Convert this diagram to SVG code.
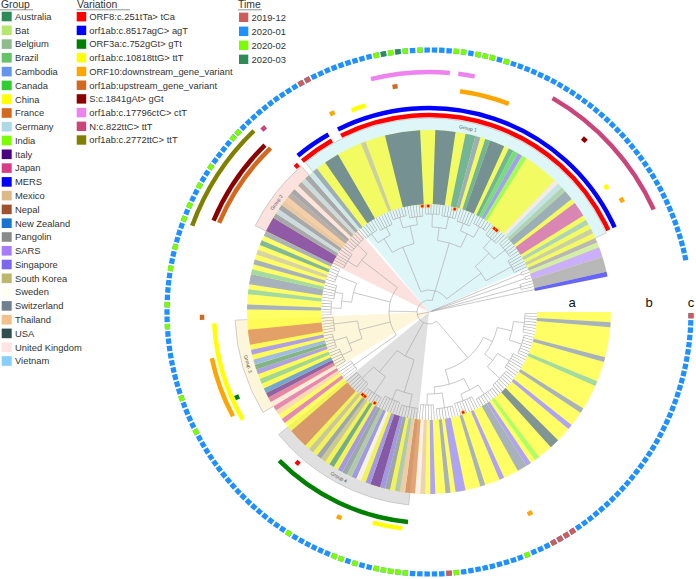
<svg xmlns="http://www.w3.org/2000/svg" width="696" height="579" viewBox="0 0 696 579">
<style>
text{font-family:"Liberation Sans",Arial,sans-serif;fill:#333}
.lt{font-size:10.4px}
.li{font-size:9.4px}
.ul{stroke:#777;stroke-width:0.8}
.br{fill:none;stroke:#a3a3a3;stroke-width:0.55}
.tm{fill:none;stroke:#a3a3a3}
.d2{stroke-dasharray:0.3 1.3 0.3 999}
.d3{stroke-dasharray:0.3 1.3 0.3 1.3 0.3 999}
.d5{stroke-dasharray:0.3 1.3 0.3 1.3 0.3 1.3 0.3 1.3 0.3 999}
.d6{stroke-dasharray:0.3 1.3 0.3 1.3 0.3 1.3 0.3 1.3 0.3 1.3 0.3 999}
.d7{stroke-dasharray:0.3 1.3 0.3 1.3 0.3 1.3 0.3 1.3 0.3 1.3 0.3 1.3 0.3 999}
.d8{stroke-dasharray:0.3 1.3 0.3 1.3 0.3 1.3 0.3 1.3 0.3 1.3 0.3 1.3 0.3 1.3 0.3 999}
.n1{stroke-dasharray:1.6 999}.n2{stroke-dasharray:3.2 999}.n3{stroke-dasharray:4.8 999}.n4{stroke-dasharray:6.4 999}.n7{stroke-dasharray:11.2 999}
.AU{stroke:#2e8b57}.BAT{stroke:#b5e66e}.BE{stroke:#8fbc8f}.BR{stroke:#66c266}.CAM{stroke:#6495ed}.CAN{stroke:#32cd32}.FR{stroke:#d2691e}.DE{stroke:#add8e6}.IN{stroke:#7cfc00}.IT{stroke:#4b0082}.JP{stroke:#d63c8a}.MERS{stroke:#0000ff}.MX{stroke:#deb887}.NP{stroke:#a0522d}.NZ{stroke:#1874cd}.PG{stroke:#8a8a8a}.SARS{stroke:#a87cf7}.SG{stroke:#7b68ee}.KR{stroke:#bdb76b}.SE{stroke:#fffff0}.CH{stroke:#708090}.TH{stroke:#f4c08a}.US{stroke:#2f4f4f}.UK{stroke:#ffe4e1}.VN{stroke:#87cefa}
.mk{fill:none;stroke-width:4.5}
.tr{fill:none;stroke-width:5.2}
.gl{font-size:5px;fill:#555}
.abc{font-size:13px;fill:#111}
.band{fill:none;stroke:#b9b9b9;stroke-width:0.6}
.tip{fill:#ff0000;stroke:#ffcc00;stroke-width:0.6}
</style>
<defs>
<circle id="st" r="145" pathLength="360" fill="none" stroke-width="74"/>
</defs>

<g id="legend-group">
<text class="lt" x="1" y="8.3">Group</text>
<line class="ul" x1="0" y1="9.8" x2="33" y2="9.8"/>
<rect x="1.7" y="11.7" width="10" height="9.6" fill="#2e8b57"/><text class="li" x="15" y="19.8">Australia</text>
<rect x="1.7" y="25.5" width="10" height="9.6" fill="#b5e66e"/><text class="li" x="15" y="33.6">Bat</text>
<rect x="1.7" y="39.3" width="10" height="9.6" fill="#8fbc8f"/><text class="li" x="15" y="47.4">Belgium</text>
<rect x="1.7" y="53.0" width="10" height="9.6" fill="#66c266"/><text class="li" x="15" y="61.1">Brazil</text>
<rect x="1.7" y="66.8" width="10" height="9.6" fill="#6495ed"/><text class="li" x="15" y="74.9">Cambodia</text>
<rect x="1.7" y="80.6" width="10" height="9.6" fill="#32cd32"/><text class="li" x="15" y="88.7">Canada</text>
<rect x="1.7" y="94.4" width="10" height="9.6" fill="#ffff00"/><text class="li" x="15" y="102.5">China</text>
<rect x="1.7" y="108.2" width="10" height="9.6" fill="#d2691e"/><text class="li" x="15" y="116.3">France</text>
<rect x="1.7" y="121.9" width="10" height="9.6" fill="#add8e6"/><text class="li" x="15" y="130.0">Germany</text>
<rect x="1.7" y="135.7" width="10" height="9.6" fill="#7cfc00"/><text class="li" x="15" y="143.8">India</text>
<rect x="1.7" y="149.5" width="10" height="9.6" fill="#4b0082"/><text class="li" x="15" y="157.6">Italy</text>
<rect x="1.7" y="163.3" width="10" height="9.6" fill="#d63c8a"/><text class="li" x="15" y="171.4">Japan</text>
<rect x="1.7" y="177.1" width="10" height="9.6" fill="#0000ff"/><text class="li" x="15" y="185.2">MERS</text>
<rect x="1.7" y="190.8" width="10" height="9.6" fill="#deb887"/><text class="li" x="15" y="198.9">Mexico</text>
<rect x="1.7" y="204.6" width="10" height="9.6" fill="#a0522d"/><text class="li" x="15" y="212.7">Nepal</text>
<rect x="1.7" y="218.4" width="10" height="9.6" fill="#1874cd"/><text class="li" x="15" y="226.5">New Zealand</text>
<rect x="1.7" y="232.2" width="10" height="9.6" fill="#8a8a8a"/><text class="li" x="15" y="240.3">Pangolin</text>
<rect x="1.7" y="246.0" width="10" height="9.6" fill="#a87cf7"/><text class="li" x="15" y="254.1">SARS</text>
<rect x="1.7" y="259.7" width="10" height="9.6" fill="#7b68ee"/><text class="li" x="15" y="267.8">Singapore</text>
<rect x="1.7" y="273.5" width="10" height="9.6" fill="#bdb76b"/><text class="li" x="15" y="281.6">South Korea</text>
<rect x="1.7" y="287.3" width="10" height="9.6" fill="#fffff0"/><text class="li" x="15" y="295.4">Sweden</text>
<rect x="1.7" y="301.1" width="10" height="9.6" fill="#708090"/><text class="li" x="15" y="309.2">Switzerland</text>
<rect x="1.7" y="314.9" width="10" height="9.6" fill="#f4c08a"/><text class="li" x="15" y="323.0">Thailand</text>
<rect x="1.7" y="328.6" width="10" height="9.6" fill="#2f4f4f"/><text class="li" x="15" y="336.7">USA</text>
<rect x="1.7" y="342.4" width="10" height="9.6" fill="#ffe4e1"/><text class="li" x="15" y="350.5">United Kingdom</text>
<rect x="1.7" y="356.2" width="10" height="9.6" fill="#87cefa"/><text class="li" x="15" y="364.3">Vietnam</text>
</g>

<g id="legend-variation">
<text class="lt" x="77" y="8.3">Variation</text>
<line class="ul" x1="76.7" y1="9.8" x2="130" y2="9.8"/>
<rect x="76.7" y="12.0" width="9.5" height="9.4" fill="#ff0000"/><text class="li" x="89.3" y="20.0">ORF8:c.251tTa&gt; tCa</text>
<rect x="76.7" y="25.7" width="9.5" height="9.4" fill="#0000ff"/><text class="li" x="89.3" y="33.7">orf1ab:c.8517agC&gt; agT</text>
<rect x="76.7" y="39.4" width="9.5" height="9.4" fill="#008000"/><text class="li" x="89.3" y="47.4">ORF3a:c.752gGt&gt; gTt</text>
<rect x="76.7" y="53.1" width="9.5" height="9.4" fill="#ffff00"/><text class="li" x="89.3" y="61.1">orf1ab:c.10818ttG&gt; ttT</text>
<rect x="76.7" y="66.8" width="9.5" height="9.4" fill="#ffa500"/><text class="li" x="89.3" y="74.8">ORF10:downstream_gene_variant</text>
<rect x="76.7" y="80.5" width="9.5" height="9.4" fill="#d2691e"/><text class="li" x="89.3" y="88.5">orf1ab:upstream_gene_variant</text>
<rect x="76.7" y="94.2" width="9.5" height="9.4" fill="#8b0000"/><text class="li" x="89.3" y="102.2">S:c.1841gAt&gt; gGt</text>
<rect x="76.7" y="107.9" width="9.5" height="9.4" fill="#ee82ee"/><text class="li" x="89.3" y="115.9">orf1ab:c.17796ctC&gt; ctT</text>
<rect x="76.7" y="121.6" width="9.5" height="9.4" fill="#c9457a"/><text class="li" x="89.3" y="129.6">N:c.822ttC&gt; ttT</text>
<rect x="76.7" y="135.3" width="9.5" height="9.4" fill="#808000"/><text class="li" x="89.3" y="143.3">orf1ab:c.2772ttC&gt; ttT</text>
</g>

<g id="legend-time">
<text class="lt" x="238" y="8.3">Time</text>
<line class="ul" x1="238" y1="9.8" x2="262" y2="9.8"/>
<rect x="239" y="12.6" width="9.3" height="9.4" fill="#cd5c5c"/><text class="li" x="251.5" y="20.6">2019-12</text>
<rect x="239" y="26.6" width="9.3" height="9.4" fill="#1e90ff"/><text class="li" x="251.5" y="34.6">2020-01</text>
<rect x="239" y="40.6" width="9.3" height="9.4" fill="#7cfc00"/><text class="li" x="251.5" y="48.6">2020-02</text>
<rect x="239" y="54.6" width="9.3" height="9.4" fill="#2e8b57"/><text class="li" x="251.5" y="62.6">2020-03</text>
</g>

<g id="circle" transform="translate(429,312)">
<g id="groups">
<circle r="97" pathLength="360" fill="none" stroke="#dff6f8" stroke-width="194" stroke-dasharray="105.6 999" transform="rotate(230.4)"/>
<circle r="97" pathLength="360" fill="none" stroke="#fbe2de" stroke-width="194" stroke-dasharray="22.4 999" transform="rotate(206.4)"/>
<circle r="97" pathLength="360" fill="none" stroke="#fdf6da" stroke-width="194" stroke-dasharray="28.8 999" transform="rotate(148.8)"/>
<circle r="97" pathLength="360" fill="none" stroke="#e0e0e0" stroke-width="194" stroke-dasharray="44.8 999" transform="rotate(96)"/>
<circle class="band" r="194" pathLength="360" stroke-dasharray="105.6 999" transform="rotate(230.4)"/>
<circle class="band" r="194" pathLength="360" stroke-dasharray="22.4 999" transform="rotate(206.4)"/>
<circle class="band" r="194" pathLength="360" stroke-dasharray="28.8 999" transform="rotate(148.8)"/>
<circle class="band" r="194" pathLength="360" stroke-dasharray="44.8 999" transform="rotate(96)"/>
<line class="band" x1="182" x2="194" transform="rotate(230.4)"/><line class="band" x1="182" x2="194" transform="rotate(336)"/>
<line class="band" x1="182" x2="194" transform="rotate(206.4)"/><line class="band" x1="182" x2="194" transform="rotate(228.8)"/>
<line class="band" x1="182" x2="194" transform="rotate(148.8)"/><line class="band" x1="182" x2="194" transform="rotate(177.6)"/>
<line class="band" x1="182" x2="194" transform="rotate(96)"/><line class="band" x1="182" x2="194" transform="rotate(140.8)"/>
<text class="gl" text-anchor="middle" dominant-baseline="central" transform="rotate(282) translate(188 0) rotate(90)">Group 1</text>
<text class="gl" text-anchor="middle" dominant-baseline="central" transform="rotate(215.7) translate(188 0) rotate(90)">Group 2</text>
<text class="gl" text-anchor="middle" dominant-baseline="central" transform="rotate(164) translate(188 0) rotate(-90)">Group 3</text>
<text class="gl" text-anchor="middle" dominant-baseline="central" transform="rotate(118.6) translate(188 0) rotate(-90)">Group 4</text>
</g>

<g id="connectors">
<circle class="br" pathLength="360" r="96" stroke-dasharray="11.2 999" transform="rotate(0.8)"/>
<circle class="br" pathLength="360" r="98" stroke-dasharray="11.2 999" transform="rotate(13.6)"/>
<circle class="br" pathLength="360" r="94" stroke-dasharray="9.6 999" transform="rotate(26.4)"/>
<circle class="br" pathLength="360" r="97" stroke-dasharray="11.2 999" transform="rotate(37.6)"/>
<circle class="br" pathLength="360" r="99" stroke-dasharray="11.2 999" transform="rotate(50.4)"/>
<circle class="br" pathLength="360" r="95" stroke-dasharray="11.2 999" transform="rotate(63.2)"/>
<circle class="br" pathLength="360" r="97" stroke-dasharray="9.6 999" transform="rotate(76)"/>
<circle class="br" pathLength="360" r="93" stroke-dasharray="8 999" transform="rotate(87.2)"/>
<circle class="br" pathLength="360" r="97" stroke-dasharray="9.6 999" transform="rotate(96.8)"/>
<circle class="br" pathLength="360" r="95" stroke-dasharray="9.6 999" transform="rotate(108)"/>
<circle class="br" pathLength="360" r="98" stroke-dasharray="9.6 999" transform="rotate(119.2)"/>
<circle class="br" pathLength="360" r="94" stroke-dasharray="9.6 999" transform="rotate(130.4)"/>
<circle class="br" pathLength="360" r="92" stroke-dasharray="6.4 999" transform="rotate(141.6)"/>
<circle class="br" pathLength="360" r="97" stroke-dasharray="8 999" transform="rotate(149.6)"/>
<circle class="br" pathLength="360" r="99" stroke-dasharray="8 999" transform="rotate(159.2)"/>
<circle class="br" pathLength="360" r="96" stroke-dasharray="8 999" transform="rotate(168.8)"/>
<circle class="br" pathLength="360" r="98" stroke-dasharray="8 999" transform="rotate(178.4)"/>
<circle class="br" pathLength="360" r="96" stroke-dasharray="8 999" transform="rotate(188)"/>
<circle class="br" pathLength="360" r="99" stroke-dasharray="8 999" transform="rotate(197.6)"/>
<circle class="br" pathLength="360" r="96" stroke-dasharray="9.6 999" transform="rotate(207.2)"/>
<circle class="br" pathLength="360" r="98" stroke-dasharray="9.6 999" transform="rotate(218.4)"/>
<circle class="br" pathLength="360" r="97" stroke-dasharray="8 999" transform="rotate(229.6)"/>
<circle class="br" pathLength="360" r="95" stroke-dasharray="8 999" transform="rotate(239.2)"/>
<circle class="br" pathLength="360" r="99" stroke-dasharray="8 999" transform="rotate(248.8)"/>
<circle class="br" pathLength="360" r="96" stroke-dasharray="8 999" transform="rotate(258.4)"/>
<circle class="br" pathLength="360" r="98" stroke-dasharray="8 999" transform="rotate(268)"/>
<circle class="br" pathLength="360" r="97" stroke-dasharray="8 999" transform="rotate(277.6)"/>
<circle class="br" pathLength="360" r="95" stroke-dasharray="8 999" transform="rotate(287.2)"/>
<circle class="br" pathLength="360" r="99" stroke-dasharray="8 999" transform="rotate(296.8)"/>
<circle class="br" pathLength="360" r="96" stroke-dasharray="8 999" transform="rotate(306.4)"/>
<circle class="br" pathLength="360" r="98" stroke-dasharray="9.6 999" transform="rotate(316)"/>
<circle class="br" pathLength="360" r="94" stroke-dasharray="8 999" transform="rotate(327.2)"/>
<circle class="br" pathLength="360" r="100" stroke-dasharray="1.6 999" transform="rotate(336.8)"/>
<circle class="br" pathLength="360" r="102" stroke-dasharray="1.6 999" transform="rotate(340)"/>
<circle class="br" pathLength="360" r="95" stroke-dasharray="3.2 999" transform="rotate(343.2)"/>
<circle class="br" pathLength="360" r="85" stroke-dasharray="12.8 999" transform="rotate(6.4)"/>
<circle class="br" pathLength="360" r="80" stroke-dasharray="12 999" transform="rotate(31.2)"/>
<circle class="br" pathLength="360" r="88" stroke-dasharray="12.8 999" transform="rotate(56)"/>
<circle class="br" pathLength="360" r="82" stroke-dasharray="10.4 999" transform="rotate(80.8)"/>
<circle class="br" pathLength="360" r="70" stroke-dasharray="24.4 999" transform="rotate(12.8)"/>
<circle class="br" pathLength="360" r="75" stroke-dasharray="23.6 999" transform="rotate(62.4)"/>
<circle class="br" pathLength="360" r="60" stroke-dasharray="49.2 999" transform="rotate(25)"/>
<circle class="br" pathLength="360" r="84" stroke-dasharray="11.2 999" transform="rotate(101.6)"/>
<circle class="br" pathLength="360" r="78" stroke-dasharray="11.2 999" transform="rotate(124)"/>
<circle class="br" pathLength="360" r="50" stroke-dasharray="22.4 999" transform="rotate(107.2)"/>
<circle class="br" pathLength="360" r="86" stroke-dasharray="9.6 999" transform="rotate(153.6)"/>
<circle class="br" pathLength="360" r="72" stroke-dasharray="14.4 999" transform="rotate(158.4)"/>
<circle class="br" pathLength="360" r="88" stroke-dasharray="9.6 999" transform="rotate(182.4)"/>
<circle class="br" pathLength="360" r="78" stroke-dasharray="14.4 999" transform="rotate(187.2)"/>
<circle class="br" pathLength="360" r="85" stroke-dasharray="11.2 999" transform="rotate(212)"/>
<circle class="br" pathLength="360" r="40" stroke-dasharray="72.8 999" transform="rotate(144.8)"/>
<circle class="br" pathLength="360" r="86" stroke-dasharray="9.6 999" transform="rotate(233.6)"/>
<circle class="br" pathLength="360" r="88" stroke-dasharray="9.6 999" transform="rotate(252.8)"/>
<circle class="br" pathLength="360" r="85" stroke-dasharray="9.6 999" transform="rotate(272)"/>
<circle class="br" pathLength="360" r="87" stroke-dasharray="9.6 999" transform="rotate(291.2)"/>
<circle class="br" pathLength="360" r="84" stroke-dasharray="10.4 999" transform="rotate(310.4)"/>
<circle class="br" pathLength="360" r="70" stroke-dasharray="19.2 999" transform="rotate(238.4)"/>
<circle class="br" pathLength="360" r="72" stroke-dasharray="19.2 999" transform="rotate(276.8)"/>
<circle class="br" pathLength="360" r="65" stroke-dasharray="15.6 999" transform="rotate(315.6)"/>
<circle class="br" pathLength="360" r="22" stroke-dasharray="75.4 999" transform="rotate(248)"/>
<circle class="br" pathLength="360" r="12" stroke-dasharray="236.1 999" transform="rotate(49.6)"/>
<line class="br" x1="85" x2="96" transform="rotate(6.4)"/><line class="br" x1="85" x2="98" transform="rotate(19.2)"/>
<line class="br" x1="80" x2="94" transform="rotate(31.2)"/><line class="br" x1="80" x2="97" transform="rotate(43.2)"/>
<line class="br" x1="88" x2="99" transform="rotate(56)"/><line class="br" x1="88" x2="95" transform="rotate(68.8)"/>
<line class="br" x1="82" x2="97" transform="rotate(80.8)"/><line class="br" x1="82" x2="93" transform="rotate(91.2)"/>
<line class="br" x1="70" x2="85" transform="rotate(12.8)"/><line class="br" x1="70" x2="80" transform="rotate(37.2)"/>
<line class="br" x1="75" x2="88" transform="rotate(62.4)"/><line class="br" x1="75" x2="82" transform="rotate(86)"/>
<line class="br" x1="60" x2="70" transform="rotate(25)"/><line class="br" x1="60" x2="75" transform="rotate(74.2)"/>
<line class="br" x1="12" x2="60" transform="rotate(49.6)"/>
<line class="br" x1="84" x2="97" transform="rotate(101.6)"/><line class="br" x1="84" x2="95" transform="rotate(112.8)"/>
<line class="br" x1="78" x2="98" transform="rotate(124)"/><line class="br" x1="78" x2="94" transform="rotate(135.2)"/>
<line class="br" x1="50" x2="84" transform="rotate(107.2)"/><line class="br" x1="50" x2="78" transform="rotate(129.6)"/>
<line class="br" x1="12" x2="50" transform="rotate(118.4)"/>
<line class="br" x1="40" x2="92" transform="rotate(144.8)"/>
<line class="br" x1="86" x2="97" transform="rotate(153.6)"/><line class="br" x1="86" x2="99" transform="rotate(163.2)"/>
<line class="br" x1="72" x2="96" transform="rotate(172.8)"/><line class="br" x1="72" x2="86" transform="rotate(158.4)"/>
<line class="br" x1="40" x2="72" transform="rotate(165.6)"/>
<line class="br" x1="88" x2="98" transform="rotate(182.4)"/><line class="br" x1="88" x2="96" transform="rotate(192)"/>
<line class="br" x1="78" x2="99" transform="rotate(201.6)"/><line class="br" x1="78" x2="88" transform="rotate(187.2)"/>
<line class="br" x1="40" x2="78" transform="rotate(194.4)"/>
<line class="br" x1="85" x2="96" transform="rotate(212)"/><line class="br" x1="85" x2="98" transform="rotate(223.2)"/>
<line class="br" x1="40" x2="85" transform="rotate(217.6)"/><line class="br" x1="12" x2="40" transform="rotate(181.2)"/>
<line class="br" x1="86" x2="97" transform="rotate(233.6)"/><line class="br" x1="86" x2="95" transform="rotate(243.2)"/>
<line class="br" x1="88" x2="99" transform="rotate(252.8)"/><line class="br" x1="88" x2="96" transform="rotate(262.4)"/>
<line class="br" x1="85" x2="98" transform="rotate(272)"/><line class="br" x1="85" x2="97" transform="rotate(281.6)"/>
<line class="br" x1="87" x2="95" transform="rotate(291.2)"/><line class="br" x1="87" x2="99" transform="rotate(300.8)"/>
<line class="br" x1="84" x2="96" transform="rotate(310.4)"/><line class="br" x1="84" x2="98" transform="rotate(320.8)"/>
<line class="br" x1="65" x2="94" transform="rotate(331.2)"/>
<line class="br" x1="70" x2="86" transform="rotate(238.4)"/><line class="br" x1="70" x2="88" transform="rotate(257.6)"/>
<line class="br" x1="72" x2="85" transform="rotate(276.8)"/><line class="br" x1="72" x2="87" transform="rotate(296)"/>
<line class="br" x1="65" x2="84" transform="rotate(315.6)"/>
<line class="br" x1="22" x2="70" transform="rotate(248)"/><line class="br" x1="22" x2="72" transform="rotate(286.4)"/>
<line class="br" x1="22" x2="65" transform="rotate(323.4)"/><line class="br" x1="12" x2="22" transform="rotate(285.7)"/>
<line class="br" x1="0" x2="12" transform="rotate(167.6)"/>
<line class="br" x1="3" x2="100" transform="rotate(337.6)"/><line class="br" x1="3" x2="102" transform="rotate(340.8)"/>
<line class="br" x1="2" x2="95" transform="rotate(344.8)"/><line class="br" x1="0" x2="108" transform="rotate(348)"/>
<circle class="tm d8" pathLength="360" r="102" stroke-width="12" transform="rotate(0.65)"/>
<circle class="tm d8" pathLength="360" r="103" stroke-width="10" transform="rotate(13.45)"/>
<circle class="tm d7" pathLength="360" r="101" stroke-width="14" transform="rotate(26.25)"/>
<circle class="tm d8" pathLength="360" r="102.5" stroke-width="11" transform="rotate(37.45)"/>
<circle class="tm d8" pathLength="360" r="103.5" stroke-width="9" transform="rotate(50.25)"/>
<circle class="tm d8" pathLength="360" r="101.5" stroke-width="13" transform="rotate(63.05)"/>
<circle class="tm d7" pathLength="360" r="102.5" stroke-width="11" transform="rotate(75.85)"/>
<circle class="tm d6" pathLength="360" r="100.5" stroke-width="15" transform="rotate(87.05)"/>
<circle class="tm d7" pathLength="360" r="102.5" stroke-width="11" transform="rotate(96.65)"/>
<circle class="tm d7" pathLength="360" r="101.5" stroke-width="13" transform="rotate(107.85)"/>
<circle class="tm d7" pathLength="360" r="103" stroke-width="10" transform="rotate(119.05)"/>
<circle class="tm d7" pathLength="360" r="101" stroke-width="14" transform="rotate(130.25)"/>
<circle class="tm d5" pathLength="360" r="100" stroke-width="16" transform="rotate(141.45)"/>
<circle class="tm d6" pathLength="360" r="102.5" stroke-width="11" transform="rotate(149.45)"/>
<circle class="tm d6" pathLength="360" r="103.5" stroke-width="9" transform="rotate(159.05)"/>
<circle class="tm d6" pathLength="360" r="102" stroke-width="12" transform="rotate(168.65)"/>
<circle class="tm d6" pathLength="360" r="103" stroke-width="10" transform="rotate(178.25)"/>
<circle class="tm d6" pathLength="360" r="102" stroke-width="12" transform="rotate(187.85)"/>
<circle class="tm d6" pathLength="360" r="103.5" stroke-width="9" transform="rotate(197.45)"/>
<circle class="tm d7" pathLength="360" r="102" stroke-width="12" transform="rotate(207.05)"/>
<circle class="tm d7" pathLength="360" r="103" stroke-width="10" transform="rotate(218.25)"/>
<circle class="tm d6" pathLength="360" r="102.5" stroke-width="11" transform="rotate(229.45)"/>
<circle class="tm d6" pathLength="360" r="101.5" stroke-width="13" transform="rotate(239.05)"/>
<circle class="tm d6" pathLength="360" r="103.5" stroke-width="9" transform="rotate(248.65)"/>
<circle class="tm d6" pathLength="360" r="102" stroke-width="12" transform="rotate(258.25)"/>
<circle class="tm d6" pathLength="360" r="103" stroke-width="10" transform="rotate(267.85)"/>
<circle class="tm d6" pathLength="360" r="102.5" stroke-width="11" transform="rotate(277.45)"/>
<circle class="tm d6" pathLength="360" r="101.5" stroke-width="13" transform="rotate(287.05)"/>
<circle class="tm d6" pathLength="360" r="103.5" stroke-width="9" transform="rotate(296.65)"/>
<circle class="tm d6" pathLength="360" r="102" stroke-width="12" transform="rotate(306.25)"/>
<circle class="tm d7" pathLength="360" r="103" stroke-width="10" transform="rotate(315.85)"/>
<circle class="tm d6" pathLength="360" r="101" stroke-width="14" transform="rotate(327.05)"/>
<circle class="tm d2" pathLength="360" r="104" stroke-width="8" transform="rotate(336.65)"/>
<circle class="tm d2" pathLength="360" r="105" stroke-width="6" transform="rotate(339.85)"/>
<circle class="tm d3" pathLength="360" r="101.5" stroke-width="13" transform="rotate(343.05)"/>
</g>

<g id="labels" opacity="0.6">
<use href="#st" stroke="#ffff00" stroke-dasharray="348.8 999"/>
<use href="#st" class="CH n1" transform="rotate(3.2)"/>
<use href="#st" class="CH n1" transform="rotate(14.4)"/>
<use href="#st" class="BR n1" transform="rotate(22.4)"/>
<use href="#st" class="CH n1" transform="rotate(32)"/>
<use href="#st" class="SG n1" transform="rotate(38.4)"/>
<use href="#st" class="US n2" transform="rotate(44.8)"/>
<use href="#st" class="IN n1" transform="rotate(52.8)"/>
<use href="#st" class="SG n1" transform="rotate(56)"/>
<use href="#st" class="CH n2" transform="rotate(57.6)"/>
<use href="#st" class="SG n1" transform="rotate(65.6)"/>
<use href="#st" class="CH n1" transform="rotate(72)"/>
<use href="#st" class="SG n2" transform="rotate(78.4)"/>
<use href="#st" class="CH n1" transform="rotate(83.2)"/>
<use href="#st" class="SG n1" transform="rotate(88)"/>
<use href="#st" class="MX n1" transform="rotate(91.2)"/>
<use href="#st" class="UK n1" transform="rotate(92.8)"/>
<use href="#st" class="FR n2" transform="rotate(94.4)"/>
<use href="#st" class="TH n1" transform="rotate(97.6)"/>
<use href="#st" class="BE n1" transform="rotate(99.2)"/>
<use href="#st" class="CH n1" transform="rotate(102.4)"/>
<use href="#st" class="SG n1" transform="rotate(104)"/>
<use href="#st" class="IT n2" transform="rotate(105.6)"/>
<use href="#st" class="SG n1" transform="rotate(108.8)"/>
<use href="#st" class="SE n1" transform="rotate(112)"/>
<use href="#st" class="SG n1" transform="rotate(113.6)"/>
<use href="#st" class="BE n1" transform="rotate(115.2)"/>
<use href="#st" class="CH n1" transform="rotate(116.8)"/>
<use href="#st" class="SG n1" transform="rotate(118.4)"/>
<use href="#st" class="AU n1" transform="rotate(121.6)"/>
<use href="#st" class="KR n1" transform="rotate(124.8)"/>
<use href="#st" class="CH n1" transform="rotate(126.4)"/>
<use href="#st" class="KR n1" transform="rotate(129.6)"/>
<use href="#st" class="FR n4" transform="rotate(132.8)"/>
<use href="#st" class="JP n1" transform="rotate(142.4)"/>
<use href="#st" class="TH n1" transform="rotate(145.6)"/>
<use href="#st" class="JP n1" transform="rotate(147.2)"/>
<use href="#st" class="UK n1" transform="rotate(148.8)"/>
<use href="#st" class="JP n1" transform="rotate(150.4)"/>
<use href="#st" class="IT n1" transform="rotate(152)"/>
<use href="#st" class="NZ n1" transform="rotate(153.6)"/>
<use href="#st" class="BR n1" transform="rotate(156.8)"/>
<use href="#st" class="SG n1" transform="rotate(160)"/>
<use href="#st" class="AU n1" transform="rotate(161.6)"/>
<use href="#st" class="CAM n1" transform="rotate(163.2)"/>
<use href="#st" class="SG n1" transform="rotate(166.4)"/>
<use href="#st" class="FR n3" transform="rotate(169.6)"/>
<use href="#st" class="CH n1" transform="rotate(180.8)"/>
<use href="#st" class="BR n1" transform="rotate(185.6)"/>
<use href="#st" class="CH n2" transform="rotate(188.8)"/>
<use href="#st" class="BR n1" transform="rotate(192)"/>
<use href="#st" class="CH n1" transform="rotate(195.2)"/>
<use href="#st" class="KR n1" transform="rotate(198.4)"/>
<use href="#st" class="AU n1" transform="rotate(201.6)"/>
<use href="#st" class="CH n1" transform="rotate(204.8)"/>
<use href="#st" class="IT n3" transform="rotate(206.4)"/>
<use href="#st" class="CH n1" transform="rotate(211.2)"/>
<use href="#st" class="DE n1" transform="rotate(212.8)"/>
<use href="#st" class="CH n1" transform="rotate(214.4)"/>
<use href="#st" class="MX n1" transform="rotate(216)"/>
<use href="#st" class="TH n1" transform="rotate(217.6)"/>
<use href="#st" class="PG n1" transform="rotate(219.2)"/>
<use href="#st" class="CH n1" transform="rotate(220.8)"/>
<use href="#st" class="UK n1" transform="rotate(222.4)"/>
<use href="#st" class="PG n1" transform="rotate(224)"/>
<use href="#st" class="DE n1" transform="rotate(225.6)"/>
<use href="#st" class="CH n1" transform="rotate(227.2)"/>
<use href="#st" class="DE n1" transform="rotate(228.8)"/>
<use href="#st" class="CH n1" transform="rotate(230.4)"/>
<use href="#st" class="US n3" transform="rotate(235.2)"/>
<use href="#st" class="KR n1" transform="rotate(248)"/>
<use href="#st" class="US n7" transform="rotate(256)"/>
<use href="#st" class="US n4" transform="rotate(272)"/>
<use href="#st" class="AU n2" transform="rotate(281.6)"/>
<use href="#st" class="CH n1" transform="rotate(284.8)"/>
<use href="#st" class="AU n1" transform="rotate(288)"/>
<use href="#st" class="US n3" transform="rotate(289.6)"/>
<use href="#st" class="AU n1" transform="rotate(296)"/>
<use href="#st" class="CAN n1" transform="rotate(297.6)"/>
<use href="#st" class="SG n1" transform="rotate(299.2)"/>
<use href="#st" class="IN n1" transform="rotate(300.8)"/>
<use href="#st" class="UK n1" transform="rotate(313.6)"/>
<use href="#st" class="DE n1" transform="rotate(315.2)"/>
<use href="#st" class="BE n1" transform="rotate(316.8)"/>
<use href="#st" class="CH n2" transform="rotate(318.4)"/>
<use href="#st" class="JP n3" transform="rotate(323.2)"/>
<use href="#st" class="BE n1" transform="rotate(329.6)"/>
<use href="#st" class="KR n1" transform="rotate(332.8)"/>
<use href="#st" class="PG n1" transform="rotate(336)"/>
<use href="#st" class="BAT n1" transform="rotate(337.6)"/>
<use href="#st" class="SARS n2" transform="rotate(339.2)"/>
<use href="#st" class="PG n3" transform="rotate(342.4)"/>
<use href="#st" class="MERS n1" transform="rotate(347.2)"/>
</g>

<g id="tips">
<rect class="tip" x="104.5" y="-1.5" width="3" height="3" transform="rotate(266.4)"/>
<rect class="tip" x="104.5" y="-1.5" width="3" height="3" transform="rotate(269.6)"/>
<rect class="tip" x="104.5" y="-1.5" width="3" height="3" transform="rotate(284)"/>
<rect class="tip" x="104.5" y="-1.5" width="3" height="3" transform="rotate(308)"/>
<rect class="tip" x="104.5" y="-1.5" width="3" height="3" transform="rotate(309.6)"/>
<rect class="tip" x="104.5" y="-1.5" width="3" height="3" transform="rotate(128.8)"/>
<rect class="tip" x="104.5" y="-1.5" width="3" height="3" transform="rotate(127.2)"/>
<rect class="tip" x="104.5" y="-1.5" width="3" height="3" transform="rotate(120.8)"/>
<rect class="tip" x="104.5" y="-1.5" width="3" height="3" transform="rotate(71.2)"/>
</g>

<g id="variations">
<circle class="mk" stroke="#ff0000" r="197" pathLength="360" stroke-dasharray="10.5 999" transform="rotate(230)"/>
<circle class="mk" stroke="#ff0000" r="197" pathLength="360" stroke-dasharray="92 999" transform="rotate(243.5)"/>
<circle class="mk" stroke="#ff0000" r="197" pathLength="360" stroke-dasharray="1.3 999" transform="rotate(227.2)"/>
<circle class="mk" stroke="#ff0000" r="200" pathLength="360" stroke-dasharray="1.3 999" transform="rotate(130.4)"/>
<circle class="mk" stroke="#0000ff" r="204" pathLength="360" stroke-dasharray="10.5 999" transform="rotate(230)"/>
<circle class="mk" stroke="#0000ff" r="204" pathLength="360" stroke-dasharray="92 999" transform="rotate(243.5)"/>
<circle class="mk" stroke="#008000" r="211" pathLength="360" stroke-dasharray="39.5 999" transform="rotate(95.7)"/>
<circle class="mk" stroke="#008000" r="210" pathLength="360" stroke-dasharray="1.3 999" transform="rotate(155.4)"/>
<circle class="mk" stroke="#ffff00" r="216" pathLength="360" stroke-dasharray="4 999" transform="rotate(249)"/>
<circle class="mk" stroke="#ffff00" r="217" pathLength="360" stroke-dasharray="1.3 999" transform="rotate(324.2)"/>
<circle class="mk" stroke="#ffff00" r="218" pathLength="360" stroke-dasharray="8 999" transform="rotate(97)"/>
<circle class="mk" stroke="#ffff00" r="215" pathLength="360" stroke-dasharray="27 999" transform="rotate(150)"/>
<circle class="mk" stroke="#ffa500" r="221" pathLength="360" stroke-dasharray="1.3 999" transform="rotate(243.4)"/>
<circle class="mk" stroke="#ffa500" r="223" pathLength="360" stroke-dasharray="13 999" transform="rotate(278)"/>
<circle class="mk" stroke="#ffa500" r="223" pathLength="360" stroke-dasharray="1.3 999" transform="rotate(329.2)"/>
<circle class="mk" stroke="#ffa500" r="224" pathLength="360" stroke-dasharray="1.3 999" transform="rotate(113)"/>
<circle class="mk" stroke="#ffa500" r="225" pathLength="360" stroke-dasharray="1.3 999" transform="rotate(62.7)"/>
<circle class="mk" stroke="#ffa500" r="222" pathLength="360" stroke-dasharray="16 999" transform="rotate(152)"/>
<circle class="mk" stroke="#d2691e" r="228" pathLength="360" stroke-dasharray="1.3 999" transform="rotate(260.8)"/>
<circle class="mk" stroke="#d2691e" r="228" pathLength="360" stroke-dasharray="23 999" transform="rotate(203)"/>
<circle class="mk" stroke="#d2691e" r="227" pathLength="360" stroke-dasharray="1.3 999" transform="rotate(178)"/>
<circle class="mk" stroke="#8b0000" r="234" pathLength="360" stroke-dasharray="22.5 999" transform="rotate(203)"/>
<circle class="mk" stroke="#8b0000" r="232" pathLength="360" stroke-dasharray="1.3 999" transform="rotate(311.4)"/>
<circle class="mk" stroke="#ee82ee" r="240" pathLength="360" stroke-dasharray="19 999" transform="rotate(256)"/>
<circle class="mk" stroke="#ee82ee" r="240" pathLength="360" stroke-dasharray="4 999" transform="rotate(277)"/>
<circle class="mk" stroke="#c9457a" r="247" pathLength="360" stroke-dasharray="1.2 999" transform="rotate(227.4)"/>
<circle class="mk" stroke="#c9457a" r="247" pathLength="360" stroke-dasharray="35.5 999" transform="rotate(300)"/>
<circle class="mk" stroke="#808000" r="252" pathLength="360" stroke-dasharray="26 999" transform="rotate(200)"/>
</g>

<g id="time">
<path class="tr" stroke="#1e90ff" d="M262 0A262 262 0 1 1 257.10 -50.44" pathLength="348.9" stroke-dasharray="1.2 0.4" stroke-dashoffset="1.4"/>
<circle class="tr" stroke="#cd5c5c" r="262" pathLength="360" stroke-dasharray="1.2 54.8 1.2 0.4 1.2 0.4 1.2 0.4 1.2 22.8 1.2 154 1.2 0.4 1.2 999" transform="rotate(0.2)"/>
<circle class="tr" stroke="#7cfc00" r="262" pathLength="360" stroke-dasharray="1.2 14.8 1.2 10 1.2 0.4 1.2 0.4 1.2 0.4 1.2 0.4 1.2 3.6 1.2 2 1.2 0.4 1.2 10 1.2 29.2 1.2 6.8 1.2 14.8 1.2 3.6 1.2 6.8 1.2 3.6 1.2 5.2 1.2 2 1.2 3.6 1.2 3.6 1.2 6.8 1.2 0.4 1.2 34 1.2 2 1.2 2 1.2 2 1.2 6.8 1.2 0.4 1.2 2 1.2 0.4 1.2 0.4 1.2 2 1.2 999" transform="rotate(67.4)"/>
<circle class="tr" stroke="#2e8b57" r="262" pathLength="360" stroke-dasharray="1.2 2 1.2 999" transform="rotate(259.4)"/>
</g>
</g>

<g id="track-labels">
<text class="abc" x="572" y="307" text-anchor="middle">a</text>
<text class="abc" x="649" y="307" text-anchor="middle">b</text>
<text class="abc" x="691" y="307" text-anchor="middle">c</text>
</g>
</svg>
